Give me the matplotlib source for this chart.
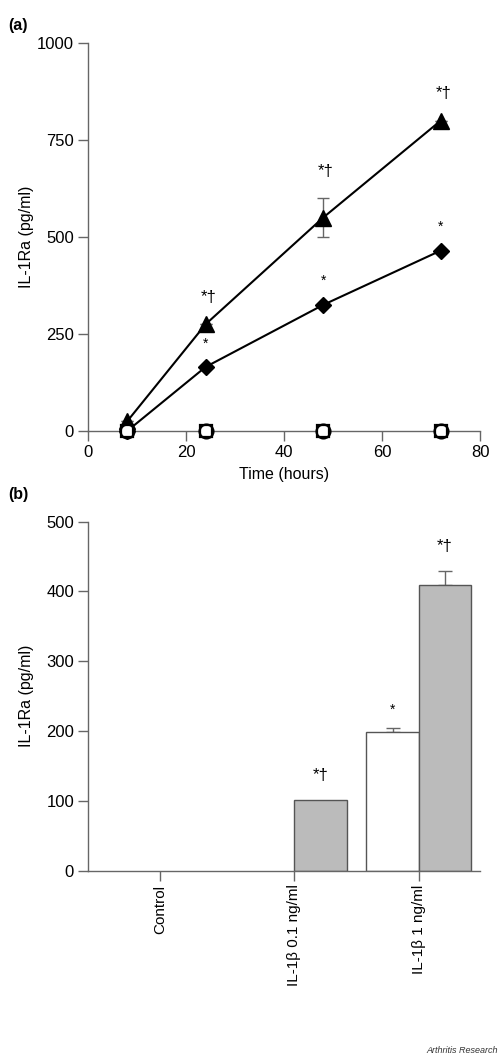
import matplotlib
matplotlib.use("Agg")
import matplotlib.pyplot as plt

plt.rcParams["font.family"] = ["Liberation Sans", "DejaVu Sans"]

AX = "#666666"

# panel (a) - time course
hours = [8, 24, 48, 72]
il1b_1 = [25, 275, 550, 800]
il1b_1_err = [0, 0, 50, 0]
il1b_01 = [0, 165, 325, 465]
control_a = [0, 0, 0, 0]
control_b = [0, 0, 0, 0]
tri_marks = ["", "*†", "*†", "*†"]
dia_marks = ["", "*", "*", "*"]

# panel (b) - dose response
categories = ["Control", "IL-1β 0.1 ng/ml", "IL-1β 1 ng/ml"]
white_vals = [0, 0, 198]
white_err = [0, 0, 7]
gray_vals = [0, 101, 410]
gray_err = [0, 0, 20]
white_marks = ["", "", "*"]
gray_marks = ["", "*†", "*†"]
cat_pos = [0.184, 0.526, 0.844]
bw = 0.134


def style(ax):
    for s in ["top", "right"]:
        ax.spines[s].set_visible(False)
    for s in ["left", "bottom"]:
        ax.spines[s].set_color(AX)
        ax.spines[s].set_linewidth(1.0)
    ax.tick_params(direction="out", length=7, width=1.0, color=AX,
                   labelsize=12, pad=3)


fig = plt.figure(figsize=(5, 10.61), dpi=100)

ax1 = fig.add_axes([0.176, 0.5938, 0.784, 0.3657])
style(ax1)
ax1.plot(hours, il1b_1, color="black", lw=1.5, marker="^", ms=11,
         clip_on=False, zorder=4)
ax1.errorbar(hours, il1b_1, yerr=il1b_1_err, fmt="none", ecolor=AX,
             elinewidth=1, capsize=4, zorder=3)
ax1.plot(hours, il1b_01, color="black", lw=1.5, marker="D", ms=8,
         clip_on=False, zorder=4)
ax1.plot(hours, control_a, linestyle="none", marker="o", ms=10, mfc="white",
         mec="black", mew=1.6, clip_on=False, zorder=5)
ax1.plot(hours, control_b, linestyle="none", marker="s", ms=8.5, mfc="none",
         mec="black", mew=1.6, clip_on=False, zorder=6)
for x, y, e, t in zip(hours, il1b_1, il1b_1_err, tri_marks):
    if t:
        ax1.annotate(t, (x, y + e), xytext=(2, 14), textcoords="offset points",
                     ha="center", va="bottom", fontsize=12)
for x, y, t in zip(hours, il1b_01, dia_marks):
    if t:
        ax1.annotate(t, (x, y), xytext=(0, 12), textcoords="offset points",
                     ha="center", va="bottom", fontsize=10)
ax1.set_xlim(0, 80)
ax1.set_ylim(0, 1000)
ax1.set_xticks([0, 20, 40, 60, 80])
ax1.set_yticks([0, 250, 500, 750, 1000])
ax1.set_xlabel("Time (hours)", fontsize=11.5, labelpad=5)
ax1.set_ylabel("IL-1Ra (pg/ml)", fontsize=11.5, labelpad=6)

ax2 = fig.add_axes([0.176, 0.1794, 0.784, 0.3289])
style(ax2)
wx = [p - bw / 2 for p in cat_pos]
gx = [p + bw / 2 for p in cat_pos]
ax2.bar(wx, white_vals, width=bw, color="white", edgecolor="#555555",
        linewidth=[1.0 if v > 0 else 0 for v in white_vals], zorder=2)
ax2.bar(gx, gray_vals, width=bw, color="#bbbbbb", edgecolor="#555555",
        linewidth=[1.0 if v > 0 else 0 for v in gray_vals], zorder=2)
for x, y, e in zip(wx, white_vals, white_err):
    if e:
        ax2.errorbar([x], [y], yerr=[[0], [e]], fmt="none", ecolor=AX,
                     elinewidth=1, capsize=5, zorder=1)
for x, y, e in zip(gx, gray_vals, gray_err):
    if e:
        ax2.errorbar([x], [y], yerr=[[0], [e]], fmt="none", ecolor=AX,
                     elinewidth=1, capsize=5, zorder=1)
for x, y, e, t in zip(wx, white_vals, white_err, white_marks):
    if t:
        ax2.annotate(t, (x, y + e), xytext=(0, 8), textcoords="offset points",
                     ha="center", va="bottom", fontsize=10)
for x, y, e, t in zip(gx, gray_vals, gray_err, gray_marks):
    if t:
        ax2.annotate(t, (x, y + e), xytext=(0, 12), textcoords="offset points",
                     ha="center", va="bottom", fontsize=12)
ax2.set_xlim(0, 1)
ax2.set_ylim(0, 500)
ax2.set_yticks([0, 100, 200, 300, 400, 500])
ax2.set_xticks(cat_pos)
ax2.set_xticklabels(categories, rotation=90, fontsize=11)
ax2.set_ylabel("IL-1Ra (pg/ml)", fontsize=11.5)
ax2.yaxis.set_label_coords(-0.137, 0.5)
ax1.yaxis.set_label_coords(-0.137, 0.5)

fig.text(0.016, 0.976, "(a)", fontsize=11.5, fontweight="bold", va="center")
fig.text(0.016, 0.534, "(b)", fontsize=11.5, fontweight="bold", va="center")
fig.text(0.995, 0.006, "Arthritis Research", fontsize=6.5, style="italic",
         ha="right", va="bottom", color="#333333")

fig.savefig("out.png", dpi=100, facecolor="white")
